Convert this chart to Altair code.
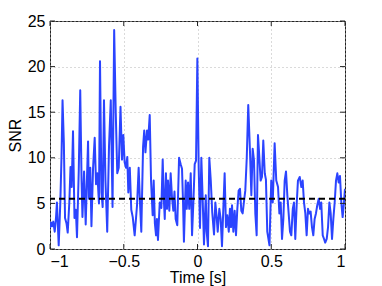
import altair as alt
import pandas as pd

time_s = [
    -1.000, -0.993, -0.986, -0.978, -0.968, -0.959, -0.953, -0.941, -0.930, -0.922,
    -0.915, -0.906, -0.898, -0.888, -0.880, -0.869, -0.861, -0.853, -0.844, -0.834,
    -0.825, -0.817, -0.805, -0.795, -0.786, -0.780, -0.769, -0.758, -0.749, -0.742,
    -0.736, -0.727, -0.719, -0.708, -0.697, -0.688, -0.679, -0.668, -0.661, -0.651,
    -0.643, -0.634, -0.624, -0.612, -0.600, -0.588, -0.576, -0.565, -0.554, -0.544,
    -0.534, -0.522, -0.512, -0.503, -0.494, -0.485, -0.476, -0.469, -0.459, -0.449,
    -0.439, -0.426, -0.410, -0.399, -0.390, -0.381, -0.369, -0.361, -0.353, -0.342,
    -0.334, -0.324, -0.315, -0.304, -0.297, -0.289, -0.281, -0.275, -0.268, -0.256,
    -0.245, -0.236, -0.229, -0.222, -0.214, -0.207, -0.200, -0.191, -0.182, -0.173,
    -0.164, -0.156, -0.148, -0.137, -0.125, -0.114, -0.105, -0.098, -0.092, -0.080,
    -0.073, -0.064, -0.056, -0.046, -0.037, -0.028, -0.019, -0.010, -0.001, 0.008,
    0.017, 0.026, 0.035, 0.044, 0.056, 0.062, 0.071, 0.080, 0.090, 0.100,
    0.112, 0.121, 0.130, 0.137, 0.148, 0.157, 0.166, 0.175, 0.184, 0.193,
    0.202, 0.212, 0.220, 0.227, 0.234, 0.243, 0.252, 0.261, 0.270, 0.279,
    0.288, 0.297, 0.306, 0.315, 0.324, 0.334, 0.344, 0.356, 0.365, 0.374,
    0.383, 0.392, 0.401, 0.410, 0.419, 0.428, 0.437, 0.446, 0.456, 0.464,
    0.473, 0.488, 0.500, 0.510, 0.523, 0.534, 0.546, 0.555, 0.564, 0.573,
    0.582, 0.591, 0.600, 0.609, 0.618, 0.627, 0.636, 0.646, 0.654, 0.663,
    0.673, 0.681, 0.693, 0.704, 0.713, 0.722, 0.731, 0.740, 0.749, 0.758,
    0.767, 0.776, 0.785, 0.794, 0.803, 0.812, 0.822, 0.831, 0.839, 0.849,
    0.858, 0.866, 0.876, 0.885, 0.894, 0.903, 0.912, 0.921, 0.930, 0.939,
    0.948, 0.957, 0.966, 0.975, 0.984, 0.993, 1.000,
]
snr = [
    2.3, 2.9, 2.5, 3.0, 1.9, 3.5, 5.1, 0.4, 5.1, 10.1,
    16.3, 11.6, 3.4, 2.8, 1.8, 5.1, 9.0, 6.8, 12.9, 3.4,
    4.3, 1.3, 8.6, 17.4, 7.5, 3.5, 8.5, 2.7, 7.9, 11.8,
    5.5, 8.9, 2.5, 8.9, 12.2, 7.1, 8.3, 5.0, 20.6, 6.2,
    4.6, 16.3, 7.5, 1.9, 11.2, 16.3, 4.6, 24.0, 14.8, 8.3,
    8.9, 15.6, 9.8, 12.5, 9.5, 8.9, 10.1, 6.2, 8.9, 4.3,
    3.5, 1.5, 4.8, 8.9, 5.1, 1.9, 11.2, 13.0, 10.6, 13.0,
    12.0, 14.7, 7.5, 3.7, 7.5, 2.8, 1.5, 3.3, 1.0, 5.1,
    4.5, 9.8, 5.7, 3.3, 8.3, 4.4, 7.5, 4.2, 8.3, 5.7,
    4.2, 6.3, 3.3, 2.6, 10.0, 9.3, 8.8, 5.1, 0.8, 7.5,
    4.4, 7.3, 4.4, 8.3, 1.5, 5.1, 9.3, 9.7, 20.9, 9.0,
    2.3, 10.0, 5.5, 0.5, 5.9, 1.9, 0.3, 10.0, 7.5, 4.0,
    1.6, 5.1, 3.5, 1.9, 4.4, 3.3, 0.3, 4.4, 8.3, 2.4,
    3.7, 1.9, 4.4, 2.4, 4.8, 1.9, 4.2, 1.5, 4.4, 6.4,
    6.6, 4.2, 3.9, 5.2, 6.4, 10.0, 15.8, 10.6, 5.9, 11.0,
    9.7, 3.9, 1.5, 12.5, 10.1, 7.5, 7.9, 11.9, 8.3, 7.6,
    1.9, 0.4, 7.5, 5.1, 11.6, 7.5, 6.8, 3.9, 5.1, 1.1,
    3.3, 7.5, 8.5, 5.9, 3.9, 1.9, 1.5, 4.4, 5.1, 1.1,
    5.1, 7.5, 7.9, 6.8, 7.5, 5.1, 3.9, 1.5, 4.4, 3.9,
    4.1, 2.4, 1.5, 3.3, 3.9, 4.8, 5.5, 4.4, 5.1, 1.5,
    1.1, 0.7, 1.1, 2.4, 5.1, 3.9, 1.1, 3.3, 5.1, 7.5,
    8.3, 7.3, 8.0, 5.1, 3.5, 5.1, 6.6,
]
x_ticks = [-1, -0.5, 0, 0.5, 1]
y_ticks = [0, 5, 10, 15, 20, 25]
threshold = [5.5]

W, H = 295, 228
FONT = "Liberation Sans"
FS = 16

df = pd.DataFrame({"t": time_s, "snr": snr})
xt = pd.DataFrame({"t": x_ticks})
yt = pd.DataFrame({"snr": y_ticks})
th = pd.DataFrame({"snr": threshold})

xs = alt.Scale(domain=[-1, 1], nice=False, zero=False)
ys = alt.Scale(domain=[0, 25], nice=False)

xaxis = alt.Axis(values=x_ticks, format="~g", title="Time [s]", grid=True,
                 gridDash=[1, 3], gridColor="#b5b5b5", gridWidth=1,
                 tickSize=0, domain=False, labelPadding=4, titlePadding=0,
                 labelFont=FONT, labelFontSize=FS, labelColor="black",
                 titleFont=FONT, titleFontSize=FS, titleFontWeight="normal",
                 titleColor="black")
yaxis = alt.Axis(values=y_ticks, format="~g", title="SNR", grid=True,
                 gridDash=[1, 3], gridColor="#b5b5b5", gridWidth=1,
                 tickSize=0, domain=False, labelPadding=5, titlePadding=4,
                 labelFont=FONT, labelFontSize=FS, labelColor="black",
                 titleFont=FONT, titleFontSize=FS, titleFontWeight="normal",
                 titleColor="black")

X = alt.X("t:Q", scale=xs, axis=xaxis)
Y = alt.Y("snr:Q", scale=ys, axis=yaxis)

line = alt.Chart(df).mark_line(color="#2b44ff", strokeWidth=2,
                               strokeJoin="round", clip=True).encode(x=X, y=Y)

thr = alt.Chart(th).mark_rule(color="black", strokeWidth=2,
                              strokeDash=[6, 4]).encode(y=Y)

TL = 5
tick_col = "#222222"
bot = alt.Chart(xt).mark_rule(color=tick_col, strokeWidth=1).encode(
    x=X, y=alt.value(H), y2=alt.value(H - TL))
top = alt.Chart(xt).mark_rule(color=tick_col, strokeWidth=1).encode(
    x=X, y=alt.value(0), y2=alt.value(TL))
lef = alt.Chart(yt).mark_rule(color=tick_col, strokeWidth=1).encode(
    y=Y, x=alt.value(0), x2=alt.value(TL))
rig = alt.Chart(yt).mark_rule(color=tick_col, strokeWidth=1).encode(
    y=Y, x=alt.value(W), x2=alt.value(W - TL))

chart = alt.layer(line, thr, bot, top, lef, rig).properties(
    width=W, height=H,
    autosize=alt.AutoSizeParams(type="none"),
    padding={"left": 42, "top": 13, "right": 29, "bottom": 37},
    background="white",
).configure_view(stroke="#222222", strokeWidth=1)

chart.save("out.html", embed_options={"renderer": "svg", "actions": False})
